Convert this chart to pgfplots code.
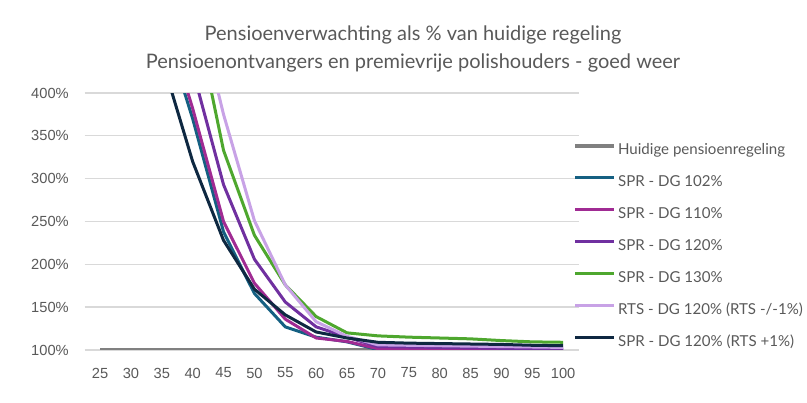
\documentclass[border=0pt]{standalone}
\usepackage{pgfplots}
\pgfplotsset{compat=1.18}
\usepackage{pgfplotstable}
\usepackage{fontspec}
\setmainfont{Lato}
\newfontfamily\tickfont{Liberation Sans}
\definecolor{txt}{HTML}{595959}
\definecolor{gridc}{HTML}{D9D9D9}
\definecolor{cur}{HTML}{808080}
\definecolor{tealc}{HTML}{156082}
\definecolor{mag}{HTML}{A02B93}
\definecolor{purp}{HTML}{7030A0}
\definecolor{grn}{HTML}{4EA72E}
\definecolor{lav}{HTML}{C8A2E6}
\definecolor{navy}{HTML}{0E2841}

\pgfplotstableread{
age cur teal mag purp grn lav navy
25 100 750 780 820 900 950 680
30 100 620 640 680 760 820 560
35 100 486 500 540 640 700 440
40 100 370 382 427 507 523 320
45 100 238 250 293 333 375 228
50 100 166 178 206 234 251 171
55 100 127 136 156 176 176 141
60 100 115 114 127 139 133 121
65 100 109.5 110 115 120 116 114
70 100 100.5 101.5 104 116.5 106 109
75 100 100.3 101.2 103.5 115 105.5 108
80 100 100.2 101 103 114 105 107.5
85 100 100.1 100.8 102.5 113 104.5 107
90 100 100 100.6 102 111 104 106.5
95 100 100 100.5 101.5 109.5 103.5 105.5
100 100 100 100.5 101.5 109 103 105
}\data

\begin{document}
\begin{tikzpicture}
\begin{axis}[name=ax, scale only axis, width=370.5pt, height=192.75pt,
  xmin=22.5, xmax=102.5, ymin=100, ymax=400,
  xtick={25,30,...,100}, ytick={100,150,...,400},
  yticklabel={\pgfmathprintnumber{\tick}\%},
  /pgf/number format/assume math mode=true,
  tick label style={font=\tickfont\fontsize{11}{13}\selectfont, text=txt},
  yticklabel style={inner sep=0pt, xshift=-11.7pt},
  xticklabel style={inner sep=0pt, yshift=-13.2pt},
  axis line style={draw=none},
  major tick length=0pt,
  ymajorgrids, grid style={gridc, line width=1pt},
  legend cell align=left,
  legend style={at={(axis description cs:0.9899,0.402)}, anchor=west,
    draw=none, fill=none, inner sep=0pt, outer sep=0pt,
    row sep=13.9pt, column sep=1.5pt,
    font=\fontsize{11.3}{13}\selectfont, text=txt,
    nodes={inner sep=0pt, text height=7.7pt, text depth=2.3pt}},
  legend image code/.code={\draw[#1] (0pt,3.9pt) -- (29.25pt,3.9pt);},
  every axis plot/.append style={line width=2.25pt, line join=round},
]
\addplot[cur, line width=2.6pt] table[x=age,y=cur]{\data};
\addlegendentry{Huidige pensioenregeling}
\addplot[tealc] table[x=age,y=teal]{\data};
\addlegendentry{SPR - DG 102\%}
\addplot[mag] table[x=age,y=mag]{\data};
\addlegendentry{SPR - DG 110\%}
\addplot[purp] table[x=age,y=purp]{\data};
\addlegendentry{SPR - DG 120\%}
\addplot[grn] table[x=age,y=grn]{\data};
\addlegendentry{SPR - DG 130\%}
\addplot[lav] table[x=age,y=lav]{\data};
\addlegendentry{RTS - DG 120\% (RTS -/-1\%)}
\addplot[navy] table[x=age,y=navy]{\data};
\addlegendentry{SPR - DG 120\% (RTS +1\%)}
\end{axis}
\node[anchor=base, font=\fontsize{15}{17}\selectfont, text=txt] at ([shift={(246.3pt,232pt)}]ax.south west) {Pensioenverwachting als \% van huidige regeling};
\node[anchor=base, font=\fontsize{15}{17}\selectfont, text=txt] at ([shift={(246.3pt,211.3pt)}]ax.south west) {Pensioenontvangers en premievrije polishouders - goed weer};
\pgfresetboundingbox
\path[use as bounding box] ([shift={(-63.45pt,-39.75pt)}]ax.south west) rectangle ++(605.25pt,302.25pt);
\end{tikzpicture}
\end{document}
